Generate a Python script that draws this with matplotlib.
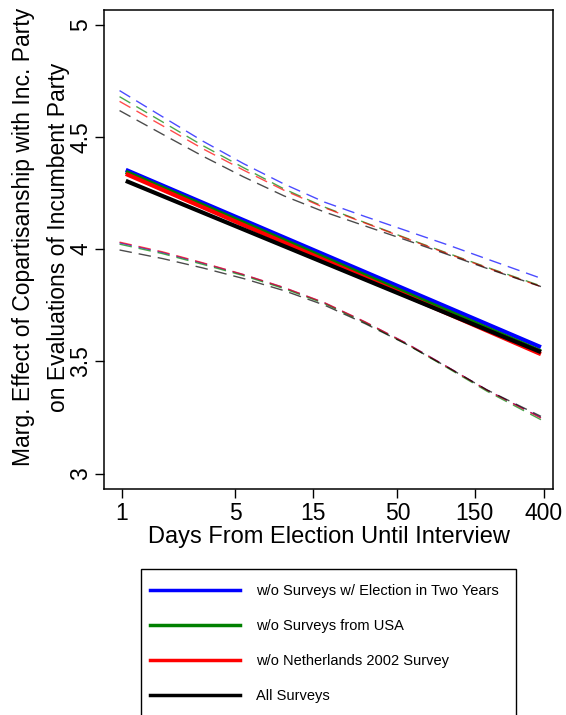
import matplotlib
matplotlib.use("Agg")
import matplotlib.pyplot as plt
from matplotlib.lines import Line2D
from matplotlib.patches import Rectangle

plt.rcParams['font.family'] = ['Liberation Sans', 'DejaVu Sans']

# ---- data ----
series_names = ["w/o Surveys w/ Election in Two Years", "w/o Surveys from USA",
                "w/o Netherlands 2002 Survey", "All Surveys"]
series_colors = ["#0000ff", "#008000", "#ff0000", "#000000"]

days_mean = [1.06, 383]
mean_blue = [4.353, 3.563]
mean_green = [4.344, 3.544]
mean_red = [4.335, 3.532]
mean_black = [4.304, 3.541]

days_band = [0.97, 1.78, 3.16, 5.62, 10, 17.8, 31.6, 56.2, 100, 178, 383]
upper_blue = [4.706, 4.590, 4.481, 4.381, 4.290, 4.209, 4.145, 4.083, 4.021, 3.956, 3.870]
upper_green = [4.679, 4.567, 4.461, 4.363, 4.268, 4.187, 4.118, 4.050, 3.984, 3.919, 3.836]
upper_red = [4.658, 4.550, 4.447, 4.352, 4.262, 4.184, 4.116, 4.048, 3.982, 3.917, 3.833]
upper_black = [4.617, 4.512, 4.414, 4.322, 4.237, 4.165, 4.103, 4.041, 3.978, 3.914, 3.833]
lower_blue = [4.028, 3.985, 3.937, 3.886, 3.828, 3.760, 3.675, 3.582, 3.478, 3.372, 3.249]
lower_green = [4.022, 3.980, 3.932, 3.882, 3.824, 3.757, 3.672, 3.579, 3.474, 3.367, 3.240]
lower_red = [4.031, 3.988, 3.939, 3.887, 3.829, 3.761, 3.676, 3.582, 3.478, 3.372, 3.248]
lower_black = [3.996, 3.958, 3.916, 3.869, 3.815, 3.750, 3.668, 3.578, 3.477, 3.373, 3.255]

x_ticks = [1, 5, 15, 50, 150, 400]
x_ticklabels = ["1", "5", "15", "50", "150", "400"]
y_ticks = [3, 3.5, 4, 4.5, 5]
y_ticklabels = ["3", "3.5", "4", "4.5", "5"]

means = [mean_blue, mean_green, mean_red, mean_black]
uppers = [upper_blue, upper_green, upper_red, upper_black]
lowers = [lower_blue, lower_green, lower_red, lower_black]

# ---- figure ----
W, H = 566, 715
fig = plt.figure(figsize=(W / 100, H / 100), dpi=100)
ax = fig.add_axes([104 / W, 1 - 489.3 / H, (553 - 104) / W, (489.3 - 10) / H])
ax.set_xscale("log")

for up, lo, c in zip(uppers, lowers, series_colors):
    ax.plot(days_band, up, color=c, lw=1.0, dashes=(9, 5), alpha=0.7)
    ax.plot(days_band, lo, color=c, lw=1.0, dashes=(9, 5), alpha=0.7)

for m, c in zip(means, series_colors):
    ax.plot(days_mean, m, color=c, lw=3.0, solid_capstyle="butt")

ax.set_xlim(0.778, 454.5)
ax.set_ylim(2.93, 5.065)
ax.set_xticks(x_ticks)
ax.set_xticklabels(x_ticklabels)
ax.minorticks_off()
ax.set_yticks(y_ticks)
ax.set_yticklabels(y_ticklabels, rotation=90, va="center")
ax.tick_params(axis="both", direction="out", length=6.5, width=1.0, labelsize=16.5, color="black")
ax.tick_params(axis="x", pad=2.5)
ax.tick_params(axis="y", pad=2.0)
for s in ax.spines.values():
    s.set_linewidth(1.1)

ax.set_xlabel("Days From Election Until Interview", fontsize=17, labelpad=1)

fig.text(24 / W, 1 - 237 / H, "Marg. Effect of Copartisanship with Inc. Party",
         rotation=90, ha="center", va="center", fontsize=16.5)
fig.text(58 / W, 1 - 237 / H, "on Evaluations of Incumbent Party",
         rotation=90, ha="center", va="center", fontsize=16.5)

# legend frame (extends past the bottom edge as in the reference)
fig.patches.append(Rectangle((141 / W, -0.05), (516 - 141) / W, (1 - 569 / H) + 0.05,
                             transform=fig.transFigure, fill=False,
                             edgecolor="black", linewidth=1.0))
handles = [Line2D([0], [0], color=c, lw=2.5) for c in series_colors]
leg = fig.legend(handles, series_names, loc="upper left",
                 bbox_to_anchor=(141 / W, 1 - 575 / H),
                 fontsize=10.5, frameon=False,
                 handlelength=6.2, handletextpad=1.1,
                 labelspacing=1.45, borderpad=0.6, borderaxespad=0.0)

fig.savefig("out.png", dpi=100)
